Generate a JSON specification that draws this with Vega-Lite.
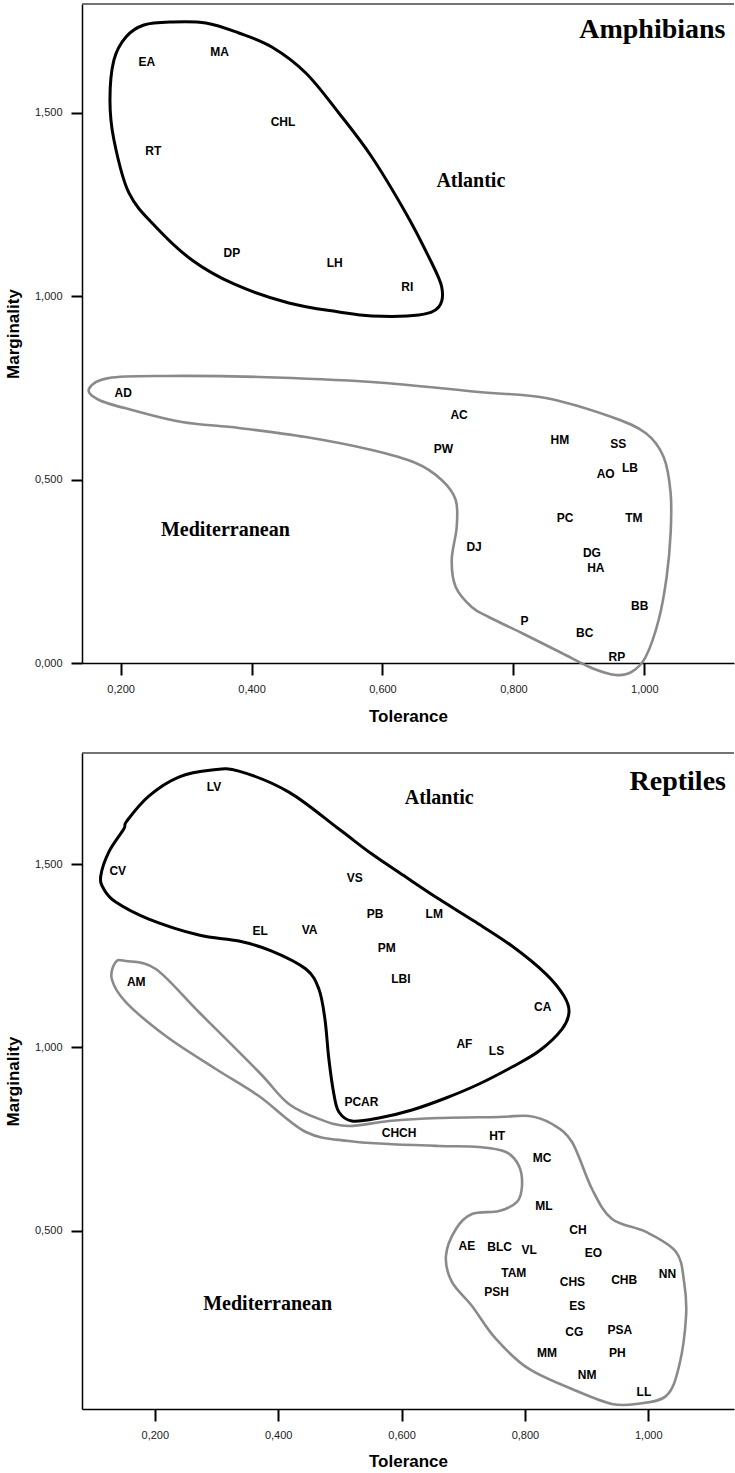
{
  "$schema": "https://vega.github.io/schema/vega-lite/v6.json",
  "padding": {"left": 4, "top": 3, "right": 0, "bottom": 0},
  "spacing": 28,
  "config": {
    "view": {"stroke": null},
    "font": "Liberation Sans",
    "axis": {
      "grid": false,
      "domainColor": "#000",
      "domainWidth": 1.5,
      "tickColor": "#000",
      "tickWidth": 2,
      "labelFont": "Liberation Sans",
      "labelFontSize": 11,
      "labelColor": "#222",
      "titleFont": "Liberation Sans",
      "titleFontSize": 17,
      "titleFontWeight": "bold",
      "titleColor": "#000"
    }
  },
  "datasets": {
    "amphPts": [
      {"Species": "EA", "Tolerance": 0.240, "Marginality": 1.640},
      {"Species": "MA", "Tolerance": 0.351, "Marginality": 1.667},
      {"Species": "RT", "Tolerance": 0.250, "Marginality": 1.397},
      {"Species": "DP", "Tolerance": 0.370, "Marginality": 1.117},
      {"Species": "CHL", "Tolerance": 0.448, "Marginality": 1.476},
      {"Species": "LH", "Tolerance": 0.527, "Marginality": 1.090},
      {"Species": "RI", "Tolerance": 0.638, "Marginality": 1.025},
      {"Species": "AD", "Tolerance": 0.204, "Marginality": 0.737},
      {"Species": "AC", "Tolerance": 0.717, "Marginality": 0.676},
      {"Species": "PW", "Tolerance": 0.693, "Marginality": 0.583},
      {"Species": "DJ", "Tolerance": 0.740, "Marginality": 0.316},
      {"Species": "HM", "Tolerance": 0.871, "Marginality": 0.608},
      {"Species": "SS", "Tolerance": 0.960, "Marginality": 0.597},
      {"Species": "AO", "Tolerance": 0.941, "Marginality": 0.515},
      {"Species": "LB", "Tolerance": 0.978, "Marginality": 0.531},
      {"Species": "PC", "Tolerance": 0.879, "Marginality": 0.395},
      {"Species": "TM", "Tolerance": 0.984, "Marginality": 0.395},
      {"Species": "DG", "Tolerance": 0.920, "Marginality": 0.301},
      {"Species": "HA", "Tolerance": 0.926, "Marginality": 0.258},
      {"Species": "BB", "Tolerance": 0.993, "Marginality": 0.155},
      {"Species": "P", "Tolerance": 0.817, "Marginality": 0.115},
      {"Species": "BC", "Tolerance": 0.909, "Marginality": 0.083},
      {"Species": "RP", "Tolerance": 0.958, "Marginality": 0.017}
    ],
    "reptPts": [
      {"Species": "LV", "Tolerance": 0.296, "Marginality": 1.709},
      {"Species": "CV", "Tolerance": 0.140, "Marginality": 1.482},
      {"Species": "AM", "Tolerance": 0.170, "Marginality": 1.177},
      {"Species": "EL", "Tolerance": 0.371, "Marginality": 1.318},
      {"Species": "VA", "Tolerance": 0.451, "Marginality": 1.321},
      {"Species": "VS", "Tolerance": 0.524, "Marginality": 1.461},
      {"Species": "PB", "Tolerance": 0.557, "Marginality": 1.364},
      {"Species": "LM", "Tolerance": 0.653, "Marginality": 1.364},
      {"Species": "PM", "Tolerance": 0.576, "Marginality": 1.271},
      {"Species": "LBI", "Tolerance": 0.599, "Marginality": 1.186},
      {"Species": "AF", "Tolerance": 0.702, "Marginality": 1.009},
      {"Species": "LS", "Tolerance": 0.754, "Marginality": 0.991},
      {"Species": "CA", "Tolerance": 0.829, "Marginality": 1.111},
      {"Species": "PCAR", "Tolerance": 0.535, "Marginality": 0.851},
      {"Species": "CHCH", "Tolerance": 0.596, "Marginality": 0.766},
      {"Species": "HT", "Tolerance": 0.755, "Marginality": 0.758},
      {"Species": "MC", "Tolerance": 0.828, "Marginality": 0.698},
      {"Species": "ML", "Tolerance": 0.831, "Marginality": 0.567},
      {"Species": "CH", "Tolerance": 0.886, "Marginality": 0.502},
      {"Species": "AE", "Tolerance": 0.706, "Marginality": 0.459},
      {"Species": "BLC", "Tolerance": 0.759, "Marginality": 0.456},
      {"Species": "VL", "Tolerance": 0.807, "Marginality": 0.448},
      {"Species": "EO", "Tolerance": 0.911, "Marginality": 0.439},
      {"Species": "TAM", "Tolerance": 0.782, "Marginality": 0.385},
      {"Species": "CHS", "Tolerance": 0.877, "Marginality": 0.359},
      {"Species": "CHB", "Tolerance": 0.961, "Marginality": 0.366},
      {"Species": "NN", "Tolerance": 1.031, "Marginality": 0.382},
      {"Species": "PSH", "Tolerance": 0.754, "Marginality": 0.332},
      {"Species": "ES", "Tolerance": 0.885, "Marginality": 0.294},
      {"Species": "CG", "Tolerance": 0.880, "Marginality": 0.223},
      {"Species": "PSA", "Tolerance": 0.954, "Marginality": 0.229},
      {"Species": "MM", "Tolerance": 0.836, "Marginality": 0.166},
      {"Species": "PH", "Tolerance": 0.950, "Marginality": 0.166},
      {"Species": "NM", "Tolerance": 0.901, "Marginality": 0.105},
      {"Species": "LL", "Tolerance": 0.993, "Marginality": 0.061}
    ],
    "amphOutline": [
      {"Zone": "Atlantic", "Tolerance": 0.2783, "Marginality": 1.748},
      {"Zone": "Atlantic", "Tolerance": 0.3302, "Marginality": 1.7453},
      {"Zone": "Atlantic", "Tolerance": 0.3806, "Marginality": 1.718},
      {"Zone": "Atlantic", "Tolerance": 0.431, "Marginality": 1.6798},
      {"Zone": "Atlantic", "Tolerance": 0.4829, "Marginality": 1.6089},
      {"Zone": "Atlantic", "Tolerance": 0.5333, "Marginality": 1.4999},
      {"Zone": "Atlantic", "Tolerance": 0.5837, "Marginality": 1.3799},
      {"Zone": "Atlantic", "Tolerance": 0.6356, "Marginality": 1.2272},
      {"Zone": "Atlantic", "Tolerance": 0.6707, "Marginality": 1.1072},
      {"Zone": "Atlantic", "Tolerance": 0.6905, "Marginality": 1.0254},
      {"Zone": "Atlantic", "Tolerance": 0.6859, "Marginality": 0.9708},
      {"Zone": "Atlantic", "Tolerance": 0.6554, "Marginality": 0.949},
      {"Zone": "Atlantic", "Tolerance": 0.5837, "Marginality": 0.9463},
      {"Zone": "Atlantic", "Tolerance": 0.5333, "Marginality": 0.9572},
      {"Zone": "Atlantic", "Tolerance": 0.457, "Marginality": 0.9817},
      {"Zone": "Atlantic", "Tolerance": 0.373, "Marginality": 1.0336},
      {"Zone": "Atlantic", "Tolerance": 0.3089, "Marginality": 1.099},
      {"Zone": "Atlantic", "Tolerance": 0.2539, "Marginality": 1.189},
      {"Zone": "Atlantic", "Tolerance": 0.2127, "Marginality": 1.2817},
      {"Zone": "Atlantic", "Tolerance": 0.1898, "Marginality": 1.4263},
      {"Zone": "Atlantic", "Tolerance": 0.1837, "Marginality": 1.5354},
      {"Zone": "Atlantic", "Tolerance": 0.1898, "Marginality": 1.6444},
      {"Zone": "Atlantic", "Tolerance": 0.2081, "Marginality": 1.7071},
      {"Zone": "Atlantic", "Tolerance": 0.2356, "Marginality": 1.7398},
      {"Zone": "Mediterranean", "Tolerance": 0.1516, "Marginality": 0.7472},
      {"Zone": "Mediterranean", "Tolerance": 0.1821, "Marginality": 0.7772},
      {"Zone": "Mediterranean", "Tolerance": 0.2692, "Marginality": 0.7827},
      {"Zone": "Mediterranean", "Tolerance": 0.4111, "Marginality": 0.78},
      {"Zone": "Mediterranean", "Tolerance": 0.5837, "Marginality": 0.7663},
      {"Zone": "Mediterranean", "Tolerance": 0.747, "Marginality": 0.739},
      {"Zone": "Mediterranean", "Tolerance": 0.8493, "Marginality": 0.7227},
      {"Zone": "Mediterranean", "Tolerance": 0.9501, "Marginality": 0.6709},
      {"Zone": "Mediterranean", "Tolerance": 1.002, "Marginality": 0.6272},
      {"Zone": "Mediterranean", "Tolerance": 1.0295, "Marginality": 0.5618},
      {"Zone": "Mediterranean", "Tolerance": 1.0402, "Marginality": 0.4636},
      {"Zone": "Mediterranean", "Tolerance": 1.0402, "Marginality": 0.3545},
      {"Zone": "Mediterranean", "Tolerance": 1.0341, "Marginality": 0.2345},
      {"Zone": "Mediterranean", "Tolerance": 1.0219, "Marginality": 0.1173},
      {"Zone": "Mediterranean", "Tolerance": 1.002, "Marginality": 0.0164},
      {"Zone": "Mediterranean", "Tolerance": 0.9806, "Marginality": -0.0245},
      {"Zone": "Mediterranean", "Tolerance": 0.9562, "Marginality": -0.0327},
      {"Zone": "Mediterranean", "Tolerance": 0.9196, "Marginality": -0.0136},
      {"Zone": "Mediterranean", "Tolerance": 0.8737, "Marginality": 0.0273},
      {"Zone": "Mediterranean", "Tolerance": 0.8127, "Marginality": 0.0818},
      {"Zone": "Mediterranean", "Tolerance": 0.7623, "Marginality": 0.1254},
      {"Zone": "Mediterranean", "Tolerance": 0.7363, "Marginality": 0.1527},
      {"Zone": "Mediterranean", "Tolerance": 0.7119, "Marginality": 0.2073},
      {"Zone": "Mediterranean", "Tolerance": 0.7058, "Marginality": 0.2809},
      {"Zone": "Mediterranean", "Tolerance": 0.7134, "Marginality": 0.3709},
      {"Zone": "Mediterranean", "Tolerance": 0.7119, "Marginality": 0.4445},
      {"Zone": "Mediterranean", "Tolerance": 0.6905, "Marginality": 0.4991},
      {"Zone": "Mediterranean", "Tolerance": 0.6508, "Marginality": 0.5454},
      {"Zone": "Mediterranean", "Tolerance": 0.5837, "Marginality": 0.5809},
      {"Zone": "Mediterranean", "Tolerance": 0.4829, "Marginality": 0.6163},
      {"Zone": "Mediterranean", "Tolerance": 0.3806, "Marginality": 0.6409},
      {"Zone": "Mediterranean", "Tolerance": 0.2936, "Marginality": 0.6572},
      {"Zone": "Mediterranean", "Tolerance": 0.2173, "Marginality": 0.6899},
      {"Zone": "Mediterranean", "Tolerance": 0.1669, "Marginality": 0.7172}
    ],
    "reptOutline": [
      {"Zone": "Atlantic", "Tolerance": 0.2925, "Marginality": 1.7564},
      {"Zone": "Atlantic", "Tolerance": 0.3363, "Marginality": 1.7536},
      {"Zone": "Atlantic", "Tolerance": 0.4174, "Marginality": 1.6964},
      {"Zone": "Atlantic", "Tolerance": 0.4985, "Marginality": 1.5955},
      {"Zone": "Atlantic", "Tolerance": 0.552, "Marginality": 1.5273},
      {"Zone": "Atlantic", "Tolerance": 0.6071, "Marginality": 1.4646},
      {"Zone": "Atlantic", "Tolerance": 0.6607, "Marginality": 1.4046},
      {"Zone": "Atlantic", "Tolerance": 0.7175, "Marginality": 1.3446},
      {"Zone": "Atlantic", "Tolerance": 0.7791, "Marginality": 1.2764},
      {"Zone": "Atlantic", "Tolerance": 0.8343, "Marginality": 1.2},
      {"Zone": "Atlantic", "Tolerance": 0.8634, "Marginality": 1.14},
      {"Zone": "Atlantic", "Tolerance": 0.8715, "Marginality": 1.0964},
      {"Zone": "Atlantic", "Tolerance": 0.8602, "Marginality": 1.05},
      {"Zone": "Atlantic", "Tolerance": 0.8229, "Marginality": 0.99},
      {"Zone": "Atlantic", "Tolerance": 0.7791, "Marginality": 0.9464},
      {"Zone": "Atlantic", "Tolerance": 0.7256, "Marginality": 0.9001},
      {"Zone": "Atlantic", "Tolerance": 0.672, "Marginality": 0.8619},
      {"Zone": "Atlantic", "Tolerance": 0.6169, "Marginality": 0.8292},
      {"Zone": "Atlantic", "Tolerance": 0.5633, "Marginality": 0.8073},
      {"Zone": "Atlantic", "Tolerance": 0.5195, "Marginality": 0.7991},
      {"Zone": "Atlantic", "Tolerance": 0.4985, "Marginality": 0.8237},
      {"Zone": "Atlantic", "Tolerance": 0.4903, "Marginality": 0.8728},
      {"Zone": "Atlantic", "Tolerance": 0.4822, "Marginality": 0.9682},
      {"Zone": "Atlantic", "Tolerance": 0.4758, "Marginality": 1.0773},
      {"Zone": "Atlantic", "Tolerance": 0.466, "Marginality": 1.1591},
      {"Zone": "Atlantic", "Tolerance": 0.4449, "Marginality": 1.2137},
      {"Zone": "Atlantic", "Tolerance": 0.3898, "Marginality": 1.2628},
      {"Zone": "Atlantic", "Tolerance": 0.3363, "Marginality": 1.29},
      {"Zone": "Atlantic", "Tolerance": 0.2714, "Marginality": 1.3064},
      {"Zone": "Atlantic", "Tolerance": 0.1903, "Marginality": 1.35},
      {"Zone": "Atlantic", "Tolerance": 0.1367, "Marginality": 1.3964},
      {"Zone": "Atlantic", "Tolerance": 0.1173, "Marginality": 1.4318},
      {"Zone": "Atlantic", "Tolerance": 0.1124, "Marginality": 1.4673},
      {"Zone": "Atlantic", "Tolerance": 0.1254, "Marginality": 1.5327},
      {"Zone": "Atlantic", "Tolerance": 0.1497, "Marginality": 1.5955},
      {"Zone": "Atlantic", "Tolerance": 0.1546, "Marginality": 1.6173},
      {"Zone": "Atlantic", "Tolerance": 0.1903, "Marginality": 1.6855},
      {"Zone": "Atlantic", "Tolerance": 0.2389, "Marginality": 1.7373},
      {"Zone": "Mediterranean", "Tolerance": 0.1367, "Marginality": 1.2328},
      {"Zone": "Mediterranean", "Tolerance": 0.153, "Marginality": 1.2355},
      {"Zone": "Mediterranean", "Tolerance": 0.2016, "Marginality": 1.2137},
      {"Zone": "Mediterranean", "Tolerance": 0.2714, "Marginality": 1.0964},
      {"Zone": "Mediterranean", "Tolerance": 0.3687, "Marginality": 0.9328},
      {"Zone": "Mediterranean", "Tolerance": 0.4174, "Marginality": 0.8455},
      {"Zone": "Mediterranean", "Tolerance": 0.4709, "Marginality": 0.8019},
      {"Zone": "Mediterranean", "Tolerance": 0.5147, "Marginality": 0.7855},
      {"Zone": "Mediterranean", "Tolerance": 0.5796, "Marginality": 0.7991},
      {"Zone": "Mediterranean", "Tolerance": 0.6607, "Marginality": 0.8073},
      {"Zone": "Mediterranean", "Tolerance": 0.758, "Marginality": 0.8101},
      {"Zone": "Mediterranean", "Tolerance": 0.8067, "Marginality": 0.8128},
      {"Zone": "Mediterranean", "Tolerance": 0.844, "Marginality": 0.791},
      {"Zone": "Mediterranean", "Tolerance": 0.8764, "Marginality": 0.7419},
      {"Zone": "Mediterranean", "Tolerance": 0.9088, "Marginality": 0.6137},
      {"Zone": "Mediterranean", "Tolerance": 0.9413, "Marginality": 0.5319},
      {"Zone": "Mediterranean", "Tolerance": 0.9964, "Marginality": 0.4965},
      {"Zone": "Mediterranean", "Tolerance": 1.0451, "Marginality": 0.4419},
      {"Zone": "Mediterranean", "Tolerance": 1.0581, "Marginality": 0.3601},
      {"Zone": "Mediterranean", "Tolerance": 1.0613, "Marginality": 0.2674},
      {"Zone": "Mediterranean", "Tolerance": 1.05, "Marginality": 0.131},
      {"Zone": "Mediterranean", "Tolerance": 1.0289, "Marginality": 0.0492},
      {"Zone": "Mediterranean", "Tolerance": 0.9802, "Marginality": 0.0274},
      {"Zone": "Mediterranean", "Tolerance": 0.9413, "Marginality": 0.0274},
      {"Zone": "Mediterranean", "Tolerance": 0.8877, "Marginality": 0.0601},
      {"Zone": "Mediterranean", "Tolerance": 0.8067, "Marginality": 0.1228},
      {"Zone": "Mediterranean", "Tolerance": 0.7531, "Marginality": 0.2046},
      {"Zone": "Mediterranean", "Tolerance": 0.7142, "Marginality": 0.2947},
      {"Zone": "Mediterranean", "Tolerance": 0.6817, "Marginality": 0.3601},
      {"Zone": "Mediterranean", "Tolerance": 0.672, "Marginality": 0.431},
      {"Zone": "Mediterranean", "Tolerance": 0.6882, "Marginality": 0.5046},
      {"Zone": "Mediterranean", "Tolerance": 0.7142, "Marginality": 0.5455},
      {"Zone": "Mediterranean", "Tolerance": 0.758, "Marginality": 0.5537},
      {"Zone": "Mediterranean", "Tolerance": 0.7872, "Marginality": 0.5783},
      {"Zone": "Mediterranean", "Tolerance": 0.7953, "Marginality": 0.6219},
      {"Zone": "Mediterranean", "Tolerance": 0.7904, "Marginality": 0.6764},
      {"Zone": "Mediterranean", "Tolerance": 0.7693, "Marginality": 0.7146},
      {"Zone": "Mediterranean", "Tolerance": 0.7255, "Marginality": 0.7282},
      {"Zone": "Mediterranean", "Tolerance": 0.6607, "Marginality": 0.731},
      {"Zone": "Mediterranean", "Tolerance": 0.5796, "Marginality": 0.7364},
      {"Zone": "Mediterranean", "Tolerance": 0.5147, "Marginality": 0.7446},
      {"Zone": "Mediterranean", "Tolerance": 0.4449, "Marginality": 0.7691},
      {"Zone": "Mediterranean", "Tolerance": 0.3687, "Marginality": 0.8673},
      {"Zone": "Mediterranean", "Tolerance": 0.2989, "Marginality": 0.941},
      {"Zone": "Mediterranean", "Tolerance": 0.2178, "Marginality": 1.031},
      {"Zone": "Mediterranean", "Tolerance": 0.153, "Marginality": 1.1237},
      {"Zone": "Mediterranean", "Tolerance": 0.1303, "Marginality": 1.1864}
    ],
    "amphZones": [
      {"Zone": "Atlantic", "Tolerance": 0.735, "Marginality": 1.313},
      {"Zone": "Mediterranean", "Tolerance": 0.360, "Marginality": 0.363}
    ],
    "reptZones": [
      {"Zone": "Atlantic", "Tolerance": 0.661, "Marginality": 1.680},
      {"Zone": "Mediterranean", "Tolerance": 0.383, "Marginality": 0.300}
    ],
    "amphTitle": [{"Group": "Amphibians", "Tolerance": 1.124, "Marginality": 1.704}],
    "reptTitle": [{"Group": "Reptiles", "Tolerance": 1.126, "Marginality": 1.703}]
  },
  "vconcat": [
    {
      "width": 652,
      "height": 659,
      "layer": [
        {
          "data": {"name": "amphOutline"},
          "transform": [{"filter": "datum.Zone === 'Mediterranean'"}],
          "mark": {"type": "line", "interpolate": "cardinal-closed", "stroke": "#8a8a8a", "strokeWidth": 2.6, "clip": false},
          "encoding": {
            "x": {"field": "Tolerance", "type": "quantitative", "scale": {"domain": [0.141, 1.137], "nice": false, "zero": false},
              "axis": {"title": "Tolerance", "values": [0.2, 0.4, 0.6, 0.8, 1.0], "tickSize": 12, "labelPadding": 8, "titlePadding": 14, "labelExpr": "replace(format(datum.value, '.3f'), '.', ',')"}},
            "y": {"field": "Marginality", "type": "quantitative", "scale": {"domain": [0, 1.797], "nice": false, "zero": false},
              "axis": {"title": "Marginality", "values": [0, 0.5, 1.0, 1.5], "tickSize": 11, "labelPadding": 9, "titlePadding": 12, "labelExpr": "replace(format(datum.value, '.3f'), '.', ',')"}},
            "order": {"value": null}
          }
        },
        {
          "data": {"name": "amphOutline"},
          "transform": [{"filter": "datum.Zone === 'Atlantic'"}],
          "mark": {"type": "line", "interpolate": "cardinal-closed", "stroke": "#000", "strokeWidth": 3},
          "encoding": {
            "x": {"field": "Tolerance", "type": "quantitative"},
            "y": {"field": "Marginality", "type": "quantitative"},
            "order": {"value": null}
          }
        },
        {
          "data": {"name": "amphTitle"},
          "mark": {"type": "rule", "stroke": "#444", "strokeWidth": 1.5},
          "encoding": {"y": {"datum": 1.797, "type": "quantitative"}}
        },
        {
          "data": {"name": "amphPts"},
          "mark": {"type": "text", "font": "Liberation Sans", "fontWeight": "bold", "fontSize": 12, "color": "#000"},
          "encoding": {
            "x": {"field": "Tolerance", "type": "quantitative"},
            "y": {"field": "Marginality", "type": "quantitative"},
            "text": {"field": "Species"}
          }
        },
        {
          "data": {"name": "amphZones"},
          "mark": {"type": "text", "font": "Liberation Serif", "fontWeight": "bold", "fontSize": 20, "color": "#000"},
          "encoding": {
            "x": {"field": "Tolerance", "type": "quantitative"},
            "y": {"field": "Marginality", "type": "quantitative"},
            "text": {"field": "Zone"}
          }
        },
        {
          "data": {"name": "amphTitle"},
          "mark": {"type": "text", "font": "Liberation Serif", "fontWeight": "bold", "fontSize": 28, "align": "right", "baseline": "alphabetic", "color": "#000"},
          "encoding": {
            "x": {"field": "Tolerance", "type": "quantitative"},
            "y": {"field": "Marginality", "type": "quantitative"},
            "text": {"field": "Group"}
          }
        }
      ]
    },
    {
      "width": 652,
      "height": 656,
      "layer": [
        {
          "data": {"name": "reptOutline"},
          "transform": [{"filter": "datum.Zone === 'Mediterranean'"}],
          "mark": {"type": "line", "interpolate": "cardinal-closed", "stroke": "#8a8a8a", "strokeWidth": 2.6, "clip": false},
          "encoding": {
            "x": {"field": "Tolerance", "type": "quantitative", "scale": {"domain": [0.082, 1.139], "nice": false, "zero": false},
              "axis": {"title": "Tolerance", "values": [0.2, 0.4, 0.6, 0.8, 1.0], "tickSize": 12, "labelPadding": 8, "titlePadding": 13, "labelExpr": "replace(format(datum.value, '.3f'), '.', ',')"}},
            "y": {"field": "Marginality", "type": "quantitative", "scale": {"domain": [0.0136, 1.803], "nice": false, "zero": false},
              "axis": {"title": "Marginality", "values": [0.5, 1.0, 1.5], "tickSize": 11, "labelPadding": 9, "titlePadding": 12, "labelExpr": "replace(format(datum.value, '.3f'), '.', ',')"}},
            "order": {"value": null}
          }
        },
        {
          "data": {"name": "reptOutline"},
          "transform": [{"filter": "datum.Zone === 'Atlantic'"}],
          "mark": {"type": "line", "interpolate": "cardinal-closed", "stroke": "#000", "strokeWidth": 3},
          "encoding": {
            "x": {"field": "Tolerance", "type": "quantitative"},
            "y": {"field": "Marginality", "type": "quantitative"},
            "order": {"value": null}
          }
        },
        {
          "data": {"name": "reptTitle"},
          "mark": {"type": "rule", "stroke": "#444", "strokeWidth": 1.5},
          "encoding": {"y": {"datum": 1.803, "type": "quantitative"}}
        },
        {
          "data": {"name": "reptPts"},
          "mark": {"type": "text", "font": "Liberation Sans", "fontWeight": "bold", "fontSize": 12, "color": "#000"},
          "encoding": {
            "x": {"field": "Tolerance", "type": "quantitative"},
            "y": {"field": "Marginality", "type": "quantitative"},
            "text": {"field": "Species"}
          }
        },
        {
          "data": {"name": "reptZones"},
          "mark": {"type": "text", "font": "Liberation Serif", "fontWeight": "bold", "fontSize": 20, "color": "#000"},
          "encoding": {
            "x": {"field": "Tolerance", "type": "quantitative"},
            "y": {"field": "Marginality", "type": "quantitative"},
            "text": {"field": "Zone"}
          }
        },
        {
          "data": {"name": "reptTitle"},
          "mark": {"type": "text", "font": "Liberation Serif", "fontWeight": "bold", "fontSize": 28, "align": "right", "baseline": "alphabetic", "color": "#000"},
          "encoding": {
            "x": {"field": "Tolerance", "type": "quantitative"},
            "y": {"field": "Marginality", "type": "quantitative"},
            "text": {"field": "Group"}
          }
        }
      ]
    }
  ]
}
